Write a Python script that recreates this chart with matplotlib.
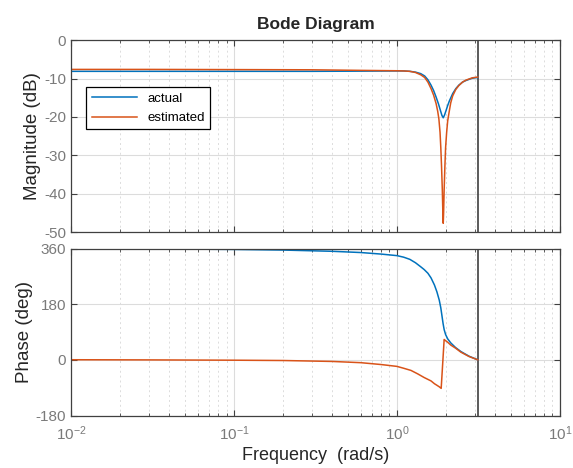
import numpy as np
import matplotlib
matplotlib.use("Agg")
import matplotlib.pyplot as plt
from matplotlib.ticker import LogLocator, FixedLocator, NullFormatter

plt.rcParams['font.family'] = ['Liberation Sans', 'DejaVu Sans']
plt.rcParams['axes.unicode_minus'] = False
plt.rcParams['mathtext.default'] = 'regular'

#---- Donnees
freq_mag_act = [0.01, 0.03, 0.1, 0.3, 0.6, 1.0, 1.1, 1.2, 1.3, 1.4, 1.48,
                1.55, 1.62, 1.68, 1.74, 1.80, 1.85, 1.89, 1.925, 1.96, 2.0,
                2.05, 2.1, 2.2, 2.3, 2.4, 2.53, 2.65, 2.77, 2.9, 3.0, 3.1416]
mag_act = [-8.1, -8.1, -8.1, -8.1, -8.05, -8.0, -8.0, -8.1, -8.3, -8.7, -9.3,
           -10.3, -11.7, -13.1, -14.8, -16.6, -18.3, -19.6, -20.2, -19.5, -18.4,
           -17.0, -15.8, -13.9, -12.6, -11.7, -10.9, -10.5, -10.2, -9.9, -9.8, -9.7]

freq_mag_est = [0.01, 0.03, 0.1, 0.3, 0.6, 1.0, 1.1, 1.2, 1.3, 1.4, 1.48,
                1.55, 1.62, 1.68, 1.74, 1.78, 1.81, 1.84, 1.86, 1.88, 1.90,
                1.915, 1.925, 1.935, 1.95, 1.97, 1.99, 2.02, 2.05, 2.1, 2.14,
                2.2, 2.3, 2.4, 2.53, 2.65, 2.77, 2.9, 3.0, 3.1416]
mag_est = [-7.6, -7.6, -7.65, -7.7, -7.85, -7.95, -8.0, -8.1, -8.4, -9.0, -9.7,
           -10.9, -12.6, -14.3, -16.5, -18.5, -20.5, -24.0, -28.0, -33.0, -39.0,
           -45.0, -47.7, -45.0, -39.0, -33.0, -28.0, -24.0, -21.0, -18.3, -16.3,
           -14.5, -12.8, -11.8, -10.9, -10.4, -10.1, -9.8, -9.7, -9.6]

freq_ph_act = [0.01, 0.03, 0.1, 0.2, 0.4, 0.6, 0.8, 1.0, 1.1, 1.2, 1.3, 1.4,
               1.47, 1.55, 1.62, 1.70, 1.76, 1.82, 1.86, 1.89, 1.92, 1.95,
               1.99, 2.05, 2.14, 2.29, 2.47, 2.77, 3.1416]
ph_act = [359.5, 359, 357, 355, 351, 347, 342, 337, 332, 325, 314, 301,
          292, 280, 265, 242, 220, 193, 168, 143, 118, 98,
          82, 68, 55, 40, 27, 12, 0]

freq_ph_est = [0.01, 0.03, 0.1, 0.2, 0.4, 0.6, 0.8, 1.0, 1.1, 1.22, 1.34,
               1.47, 1.55, 1.62, 1.70, 1.76, 1.82, 1.87, 1.95, 1.97, 2.05,
               2.14, 2.29, 2.47, 2.77, 3.1416]
ph_est = [0.5, 0, -1, -2, -5, -9, -15, -21, -27, -34, -45,
          -57, -63, -68, -77, -82, -87, -92, 66, 64, 57,
          48, 38, 25, 11, 0]

nyquist = 3.1416
mag_ticks = [-50, -40, -30, -20, -10, 0]
ph_ticks = [-180, 0, 180, 360]

c_act = '#0072BD'
c_est = '#D95319'
tick_col = '#7a7a7a'


def style_axes(ax):
    ax.set_xscale('log')
    ax.set_xlim(1e-2, 1e1)
    ax.xaxis.set_major_locator(LogLocator(base=10, numticks=10))
    ax.xaxis.set_minor_locator(LogLocator(base=10, subs=np.arange(2, 10), numticks=20))
    ax.xaxis.set_minor_formatter(NullFormatter())
    ax.tick_params(which='both', direction='in', top=True, right=True,
                   colors='#404040', labelcolor=tick_col, labelsize=11)
    ax.tick_params(which='major', length=4)
    ax.tick_params(which='minor', length=2)
    ax.grid(True, which='major', color='#dcdcdc', lw=0.8, ls='-')
    ax.grid(True, which='minor', axis='x', color='#dcdcdc', lw=0.7, ls=(0, (2, 3)))
    ax.set_axisbelow(True)
    for s in ax.spines.values():
        s.set_color('#404040')
        s.set_linewidth(0.9)
    ax.axvline(nyquist, color='#404040', lw=1.2)


fig = plt.figure(figsize=(5.73, 4.68), dpi=100)
ax1 = fig.add_axes([0.124, 0.504, 0.853, 0.410])
ax2 = fig.add_axes([0.124, 0.112, 0.853, 0.357])

#---- Magnitude
style_axes(ax1)
ax1.plot(freq_mag_act, mag_act, color=c_act, lw=1.1, label='actual')
ax1.plot(freq_mag_est, mag_est, color=c_est, lw=1.1, label='estimated')
ax1.set_ylim(-50, 0)
ax1.yaxis.set_major_locator(FixedLocator(mag_ticks))
ax1.xaxis.set_major_formatter(NullFormatter())
ax1.set_ylabel('Magnitude (dB)', fontsize=13.5, color='#262626', labelpad=2)
leg = ax1.legend(loc='upper left', bbox_to_anchor=(0.018, 0.79), fancybox=False,
                 edgecolor='black', fontsize=9.5, handlelength=3.4, borderpad=0.4,
                 labelspacing=0.55, framealpha=1)
leg.get_frame().set_linewidth(0.9)
ax1.set_title('Bode Diagram', fontsize=12.5, fontweight='bold', color='#262626', pad=8)

#---- Phase
style_axes(ax2)
ax2.plot(freq_ph_act, ph_act, color=c_act, lw=1.1)
ax2.plot(freq_ph_est, ph_est, color=c_est, lw=1.1)
ax2.set_ylim(-180, 360)
ax2.yaxis.set_major_locator(FixedLocator(ph_ticks))
ax2.set_ylabel('Phase (deg)', fontsize=13.5, color='#262626', labelpad=2)
ax2.set_xlabel('Frequency  (rad/s)', fontsize=13, color='#262626', labelpad=3)
ax2.tick_params(axis='x', which='major', pad=6)

fig.savefig('out.png', dpi=100)
